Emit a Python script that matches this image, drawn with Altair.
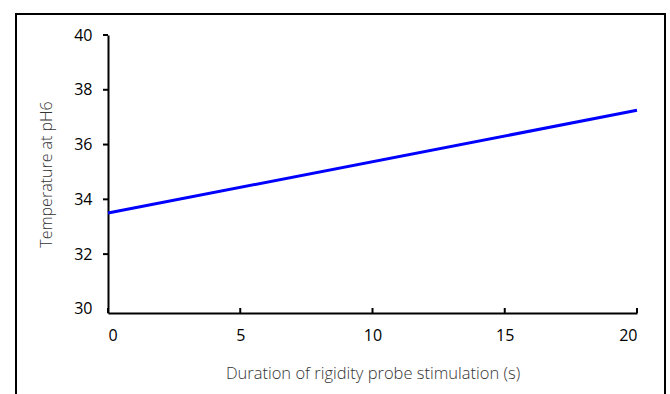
import altair as alt
import pandas as pd

# Data
duration = [0, 20]
temperature = [33.5, 37.25]
x_ticks = [0, 5, 10, 15, 20]
y_ticks = [30, 32, 34, 36, 38, 40]

W, H = 529, 278
PL, PT = 108, 35

df = pd.DataFrame({"duration": duration, "temperature": temperature})
xticks_df = pd.DataFrame({"t": x_ticks})
yticks_df = pd.DataFrame({"v": [v for v in y_ticks if v != y_ticks[0]]})
one = pd.DataFrame({"a": [0]})

FONT = "Open Sans"
xscale = alt.Scale(domain=[0, 20], nice=False, zero=False)
yscale = alt.Scale(domain=[29.85, 40], nice=False, zero=False)

line = alt.Chart(df).mark_line(color="#0000ff", strokeWidth=3).encode(
    x=alt.X("duration:Q", scale=xscale,
            axis=alt.Axis(values=x_ticks, title="Duration of rigidity probe stimulation (s)",
                          ticks=False, grid=False, domainColor="black", domainWidth=2,
                          labelFont=FONT, labelFontSize=16, labelColor="black", labelPadding=14,
                          titleFont=FONT, titleFontSize=16.5, titleFontWeight=300, titleColor="#333333",
                          titlePadding=22)),
    y=alt.Y("temperature:Q", scale=yscale,
            axis=alt.Axis(values=y_ticks, title="Temperature at pH6",
                          ticks=False,
                          grid=False, domainColor="black", domainWidth=2,
                          labelFont=FONT, labelFontSize=16, labelColor="black", labelPadding=16,
                          titleFont=FONT, titleFontSize=16, titleFontWeight=300, titleColor="#333333",
                          titlePadding=19)),
)

xt = alt.Chart(xticks_df).mark_rule(color="black", strokeWidth=2).encode(
    x=alt.X("t:Q", scale=xscale),
    y=alt.value(H),
    y2=alt.value(H - 5),
)

yt = alt.Chart(yticks_df).mark_rule(color="black", strokeWidth=2).encode(
    y=alt.Y("v:Q", scale=yscale),
    x=alt.value(-5),
    x2=alt.value(0),
)

frame = alt.Chart(one).mark_rect(filled=False, stroke="black", strokeWidth=2).encode(
    x=alt.value(16 - PL),
    x2=alt.value(665 - PL),
    y=alt.value(14 - PT),
    y2=alt.value(420 - PT),
)

chart = alt.layer(frame, line, xt, yt).properties(
    width=W, height=H,
    background="white",
    autosize=alt.AutoSizeParams(type="none"),
    padding={"left": PL, "top": PT, "right": 670 - PL - W, "bottom": 394 - PT - H},
).configure_view(stroke=None)

chart.save("out.html", embed_options={"renderer": "svg", "actions": False})
